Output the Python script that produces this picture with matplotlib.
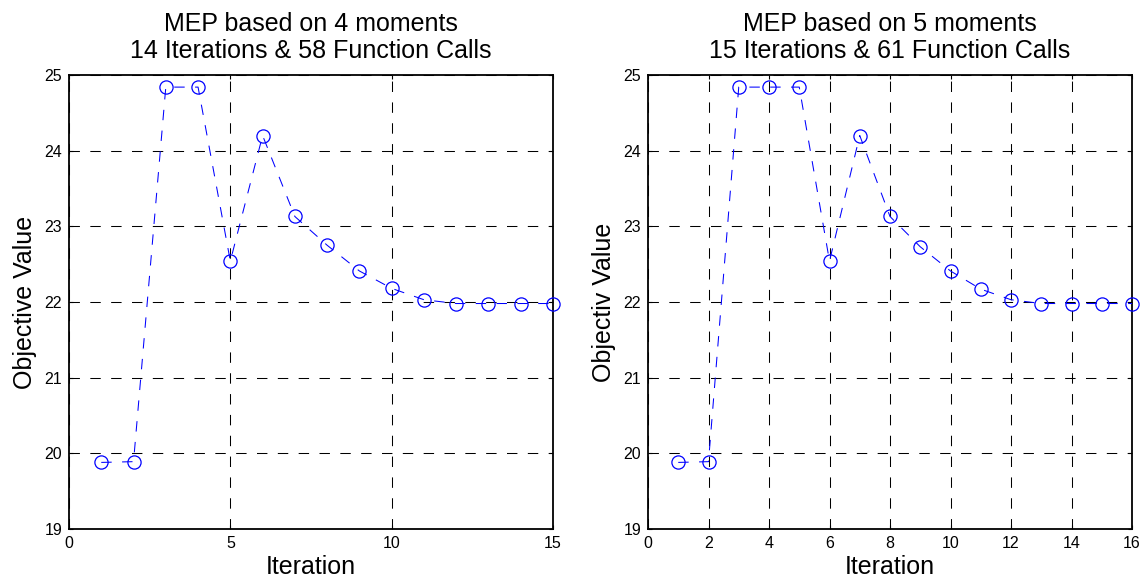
import matplotlib
matplotlib.use("Agg")
import matplotlib.pyplot as plt

plt.rcParams['font.family'] = ['Liberation Sans', 'DejaVu Sans']

iters_left = [1, 2, 3, 4, 5, 6, 7, 8, 9, 10, 11, 12, 13, 14, 15]
vals_left = [19.88, 19.89, 24.84, 24.84, 22.54, 24.20, 23.13, 22.75, 22.41, 22.18, 22.03, 21.98, 21.98, 21.98, 21.98]

iters_right = [1, 2, 3, 4, 5, 6, 7, 8, 9, 10, 11, 12, 13, 14, 15, 16]
vals_right = [19.88, 19.89, 24.84, 24.84, 24.84, 22.54, 24.20, 23.13, 22.73, 22.41, 22.17, 22.03, 21.98, 21.98, 21.98, 21.98]

titles = ["MEP based on 4 moments\n14 Iterations & 58 Function Calls",
          "MEP based on 5 moments\n15 Iterations & 61 Function Calls"]
ylabels = ["Objective Value", "Objectiv Value"]
xticks_left = [0, 5, 10, 15]
xticks_right = [0, 2, 4, 6, 8, 10, 12, 14, 16]
yticks = [19, 20, 21, 22, 23, 24, 25]

fig = plt.figure(figsize=(11.45, 5.84), dpi=100)
W, H = 1145, 584
ax1 = fig.add_axes([69 / W, (H - 529) / H, 484 / W, 454 / H])
ax2 = fig.add_axes([648 / W, (H - 529) / H, 484 / W, 454 / H])

for ax, x, y, xt, title, yl in [(ax1, iters_left, vals_left, xticks_left, titles[0], ylabels[0]),
                                (ax2, iters_right, vals_right, xticks_right, titles[1], ylabels[1])]:
    ax.plot(x, y, linestyle=(0, (10, 10)), color='#0000ff', linewidth=0.75,
            marker='o', markersize=9.5, markerfacecolor='none', markeredgecolor='#0000ff',
            markeredgewidth=0.9, clip_on=False, zorder=3)
    ax.set_xlim(xt[0], xt[-1])
    ax.set_ylim(19, 25)
    ax.set_xticks(xt)
    ax.set_yticks(yticks)
    ax.grid(True, color='black', linestyle=(0, (10, 10)), linewidth=0.75)
    ax.tick_params(direction='in', length=3, labelsize=11.5, top=True, right=True, pad=5)
    for s in ax.spines.values():
        s.set_linewidth(1.3)
    ax.set_title(title, fontsize=18, pad=12, linespacing=1.18)
    ax.set_xlabel("Iteration", fontsize=18, labelpad=3)
    ax.set_ylabel(yl, fontsize=18, labelpad=5)

fig.savefig("out.png", dpi=100)
